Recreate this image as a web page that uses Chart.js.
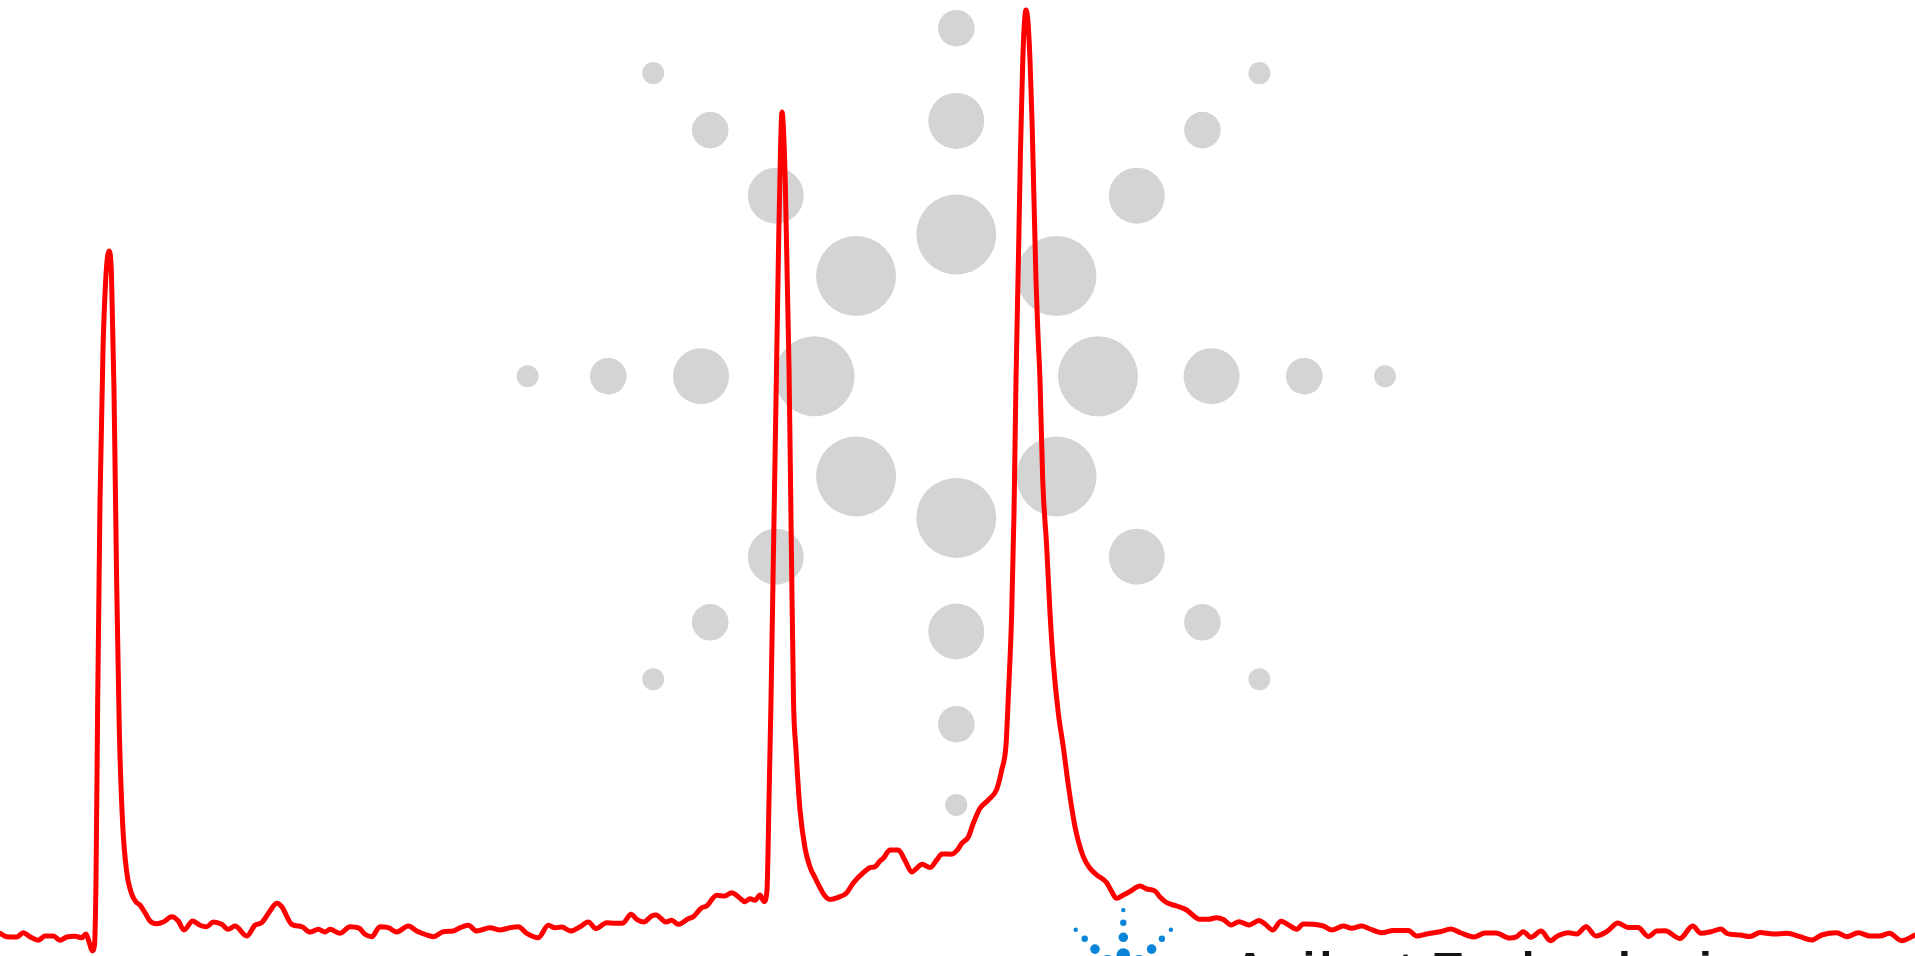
<!DOCTYPE html>
<html>
<head>
<meta charset="utf-8">
<script src="https://cdn.jsdelivr.net/npm/chart.js@4.4.1/dist/chart.umd.min.js"></script>
<style>
  html, body { margin: 0; padding: 0; background: #ffffff; overflow: hidden; }
  #wrap { position: relative; width: 1915px; height: 956px; }
</style>
</head>
<body>
<div id="wrap"><canvas id="c"></canvas></div>
<script>
// Chromatogram trace: retention time (min) and detector response
const times = [
  0.00, 0.067, 0.167, 0.233, 0.30, 0.383, 0.45, 0.533, 0.60, 0.667, 0.75, 0.817, 0.86, 0.893, 0.923, 0.945,
  0.96, 0.977, 1.00, 1.03, 1.06, 1.09, 1.115, 1.14, 1.167, 1.193, 1.227, 1.267, 1.317, 1.36, 1.40, 1.45,
  1.50, 1.567, 1.633, 1.717, 1.783, 1.84, 1.927, 2.00, 2.067, 2.133, 2.217, 2.283, 2.35, 2.467, 2.55, 2.617,
  2.70, 2.767, 2.817, 2.917, 3.017, 3.10, 3.183, 3.25, 3.30, 3.40, 3.50, 3.593, 3.65, 3.717, 3.80, 3.883,
  3.967, 4.083, 4.167, 4.267, 4.333, 4.433, 4.533, 4.60, 4.683, 4.767, 4.90, 5.00, 5.10, 5.183, 5.267, 5.383,
  5.483, 5.55, 5.617, 5.707, 5.80, 5.883, 5.96, 6.067, 6.15, 6.227, 6.31, 6.367, 6.44, 6.517, 6.56, 6.66,
  6.717, 6.783, 6.883, 6.933, 7.017, 7.067, 7.167, 7.25, 7.317, 7.393, 7.45, 7.50, 7.55, 7.60, 7.64, 7.67,
  7.69, 7.71, 7.735, 7.76, 7.785, 7.805, 7.82, 7.835, 7.853, 7.89, 7.914, 7.935, 7.96, 8.00, 8.05, 8.10,
  8.15, 8.20, 8.25, 8.30, 8.383, 8.46, 8.533, 8.633, 8.70, 8.75, 8.80, 8.833, 8.90, 8.983, 9.05, 9.117,
  9.167, 9.22, 9.30, 9.367, 9.42, 9.517, 9.573, 9.617, 9.683, 9.733, 9.80, 9.883, 9.967, 10.017, 10.06, 10.083,
  10.117, 10.14, 10.16, 10.186, 10.205, 10.225, 10.24, 10.26, 10.28, 10.30, 10.32, 10.34, 10.36, 10.38, 10.40, 10.427,
  10.467, 10.50, 10.533, 10.583, 10.633, 10.683, 10.75, 10.833, 10.90, 10.967, 11.067, 11.117, 11.165, 11.233, 11.30, 11.40, 11.467, 11.55,
  11.60, 11.667, 11.767, 11.867, 11.90, 11.995, 12.083, 12.167, 12.233, 12.31, 12.39, 12.49, 12.59, 12.65, 12.727, 12.81,
  12.895, 12.967, 13.033, 13.133, 13.233, 13.32, 13.433, 13.517, 13.617, 13.70, 13.817, 13.933, 14.083, 14.167, 14.267, 14.40,
  14.51, 14.61, 14.74, 14.85, 14.96, 15.093, 15.167, 15.233, 15.31, 15.41, 15.505, 15.575, 15.683, 15.767, 15.86, 15.96,
  16.067, 16.18, 16.28, 16.38, 16.485, 16.567, 16.65, 16.80, 16.927, 17.01, 17.11, 17.21, 17.27, 17.40, 17.50, 17.60,
  17.733, 17.867, 18.00, 18.117, 18.217, 18.367, 18.467, 18.583, 18.70, 18.80, 18.893, 19.017, 19.15
];
const response = [
  2.27, 1.93, 1.90, 2.33, 1.93, 1.57, 2.00, 2.00, 1.57, 1.90, 1.97, 1.83, 2.20, 1.33, 0.50, 1.10,
  7.6, 25.6, 45.6, 60.6, 68.1, 70.5, 68.1, 56.6, 37.1, 22.6, 13.1, 8.4, 6.2, 5.4, 5.1, 4.33,
  3.50, 3.23, 3.40, 3.93, 3.50, 2.60, 3.50, 3.07, 2.93, 3.40, 3.17, 2.67, 3.00, 2.00, 3.07, 3.33,
  4.50, 5.27, 4.93, 3.17, 2.93, 2.40, 2.67, 2.40, 2.67, 2.27, 2.93, 2.77, 2.17, 1.93, 2.93, 2.83,
  2.40, 3.00, 2.50, 2.10, 1.93, 2.43, 2.50, 2.83, 3.07, 2.50, 2.83, 2.60, 2.83, 2.93, 2.27, 1.83,
  3.07, 2.83, 2.90, 2.50, 2.93, 3.40, 2.73, 3.33, 3.27, 3.27, 4.17, 3.67, 3.40, 4.00, 4.10, 3.40,
  3.57, 3.17, 3.73, 3.93, 4.83, 5.00, 6.07, 6.00, 6.33, 5.83, 5.43, 5.73, 5.57, 6.10, 5.45, 6.60,
  15.6, 25.6, 40.6, 55.6, 70.6, 80.6, 84.4, 82.6, 77.3, 59.0, 40.6, 25.6, 20.6, 14.6, 10.8, 8.9,
  7.83, 6.83, 6.00, 5.65, 5.87, 6.25, 7.30, 8.33, 8.83, 8.93, 9.50, 9.77, 10.6, 10.6, 9.55, 8.40,
  8.77, 9.18, 8.85, 9.60, 10.2, 10.18, 10.6, 11.25, 11.9, 13.27, 14.77, 15.6, 16.67, 18.6, 21.1, 25.9,
  34.3, 44.3, 57.6, 70.6, 80.6, 88.6, 92.6, 94.6, 93.4, 89.6, 83.6, 75.6, 67.6, 62.1, 57.6, 47.6,
  40.9, 34.3, 29.3, 24.3, 20.9, 17.1, 12.93, 9.93, 8.77, 8.10, 7.33, 6.43, 5.77, 6.10, 6.45, 7.00, 6.70, 6.50,
  5.90, 5.33, 5.00, 4.60, 4.33, 3.67, 3.67, 3.83, 3.65, 3.10, 3.43, 3.10, 3.55, 3.20, 2.60, 3.47,
  3.05, 2.67, 3.20, 3.17, 3.00, 2.60, 3.00, 2.77, 3.00, 2.70, 2.33, 2.55, 2.55, 2.00, 2.20, 2.43,
  2.70, 2.30, 1.90, 2.30, 2.30, 1.80, 1.93, 2.43, 1.87, 2.50, 1.53, 2.00, 2.33, 2.20, 2.93, 2.00,
  2.43, 3.30, 2.85, 2.85, 1.95, 2.50, 2.53, 1.75, 3.00, 2.27, 2.43, 2.70, 2.25, 2.10, 1.95, 2.35,
  2.20, 2.27, 1.93, 1.60, 2.10, 2.33, 1.93, 2.33, 2.00, 2.00, 2.27, 1.53, 2.10
];

// Background spark logo (grey dots): position in logo units, dot radius
const logoX = [
  0, 0, 0, 0,
  0, 0, 0, 0,
  -1.417, -2.553, -3.48, -4.287,
  1.417, 2.553, 3.48, 4.287,
  -1.002, -1.805, -2.461, -3.031,
  1.002, 1.805, 2.461, 3.031,
  -1.002, -1.805, -2.461, -3.031,
  1.002, 1.805, 2.461, 3.031
];
const logoY = [
  1.417, 2.553, 3.48, 4.287,
  -1.417, -2.553, -3.48, -4.287,
  0, 0, 0, 0,
  0, 0, 0, 0,
  1.002, 1.805, 2.461, 3.031,
  1.002, 1.805, 2.461, 3.031,
  -1.002, -1.805, -2.461, -3.031,
  -1.002, -1.805, -2.461, -3.031
];
const logoR = [
  40, 28, 18.3, 11,
  40, 28, 18.3, 11,
  40, 28, 18.3, 11,
  40, 28, 18.3, 11,
  40, 28, 18.3, 11,
  40, 28, 18.3, 11,
  40, 28, 18.3, 11,
  40, 28, 18.3, 11
];

// Small blue brand mark (only its upper part shows)
const markX = [1.670, 1.670, 1.670, 1.670, 1.194, 1.284, 1.387, 1.513, 2.146, 2.056, 1.953, 1.827];
const markY = [-5.339, -5.466, -5.611, -5.789, -5.536, -5.626, -5.729, -5.855, -5.536, -5.626, -5.729, -5.855];
const markR = [2.2, 3.2, 4.8, 6.8, 2.2, 3.2, 4.8, 6.8, 2.2, 3.2, 4.8, 6.8];

const brandText = 'Agilent Technologies';

const trace = times.map((t, i) => ({ x: t, y: response[i] }));
const logoDots = logoX.map((x, i) => ({ x: x, y: logoY[i], r: logoR[i] }));
const markDots = markX.map((x, i) => ({ x: x, y: markY[i], r: markR[i] }));

const brandPlugin = {
  id: 'brand',
  afterDraw(chart) {
    const ctx = chart.ctx;
    ctx.save();
    ctx.fillStyle = '#141414';
    ctx.font = 'bold 46px "Liberation Sans", Arial, sans-serif';
    ctx.textBaseline = 'alphabetic';
    ctx.textAlign = 'left';
    try { ctx.letterSpacing = '4px'; } catch (e) {}
    const x0 = chart.scales.lx.getPixelForValue(2.77);
    const y0 = chart.scales.ly.getPixelForValue(-6.09);
    ctx.fillText(brandText, x0, y0);
    ctx.restore();
  }
};

new Chart(document.getElementById('c'), {
  type: 'line',
  data: {
    datasets: [
      {
        type: 'line',
        label: 'Signal',
        data: trace,
        xAxisID: 'x',
        yAxisID: 'y',
        borderColor: '#ff0000',
        borderWidth: 5,
        pointRadius: 0,
        fill: false,
        cubicInterpolationMode: 'monotone',
        borderJoinStyle: 'round',
        borderCapStyle: 'round'
      },
      {
        type: 'bubble',
        label: 'Mark',
        data: markDots,
        xAxisID: 'lx',
        yAxisID: 'ly',
        backgroundColor: '#0a84d6',
        borderWidth: 0
      },
      {
        type: 'bubble',
        label: 'Logo',
        data: logoDots,
        xAxisID: 'lx',
        yAxisID: 'ly',
        backgroundColor: '#d4d4d4',
        borderWidth: 0
      }
    ]
  },
  options: {
    responsive: true,
    maintainAspectRatio: false,
    animation: false,
    events: [],
    layout: { padding: 0, autoPadding: false },
    plugins: {
      legend: { display: false },
      tooltip: { enabled: false },
      title: { display: false }
    },
    scales: {
      x: { type: 'linear', min: 0, max: 19.15, display: false },
      y: { type: 'linear', min: 0, max: 95.6, display: false },
      lx: { type: 'linear', axis: 'x', min: -9.563, max: 9.587, display: false },
      ly: { type: 'linear', axis: 'y', min: -5.798, max: 3.762, display: false }
    }
  },
  plugins: [brandPlugin]
});
</script>
</body>
</html>
